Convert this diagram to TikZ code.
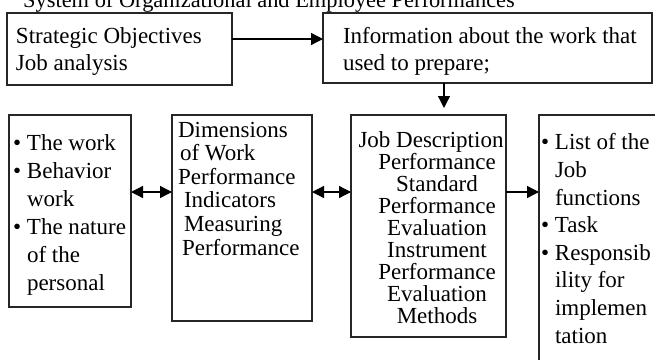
\documentclass[tikz,border=0pt]{standalone}
\usepackage{fontspec}
\setmainfont{Liberation Serif}
\usetikzlibrary{arrows.meta}
\begin{document}
\begin{tikzpicture}[x=1pt,y=-1pt,
  box/.style={draw=black!85, line width=1.4pt, inner sep=0pt, outer sep=0pt, anchor=north west},
  txt/.style={inner sep=0pt, outer sep=0pt, anchor=base west, align=left},
  arr/.style={line width=1.3pt, -{Triangle[length=12pt,width=12pt]}},
  darr/.style={line width=1.3pt, {Triangle[length=12pt,width=12pt]}-{Triangle[length=12pt,width=12pt]}},
  font=\fontsize{23}{28}\selectfont]
\useasboundingbox (0,0) rectangle (655,359);
\clip (0,0) rectangle (655,359);
% title
\node[inner sep=0pt, anchor=base west, font=\fontsize{22.4}{26}\selectfont] (title) at (23,7) {System of Organizational and Employee Performances};
% boxes
\node[box, minimum width=225pt, minimum height=72pt] (b1) at (7,13) {};
\node[box, minimum width=329pt, minimum height=70pt] (b2) at (323,13) {};
\node[box, minimum width=122pt, minimum height=192pt] (lb) at (9,115) {};
\node[box, minimum width=140pt, minimum height=206pt] (dims) at (172,115) {};
\node[box, minimum width=155pt, minimum height=222pt] (jd) at (351,115) {};
\node[box, minimum width=141pt, minimum height=265pt] (rb) at (539,115) {};
% texts (base anchor = baseline of the last line)
\node[txt, font=\fontsize{23}{27}\selectfont] (t1) at (16,70) {Strategic Objectives\\Job analysis};
\node[txt, font=\fontsize{23}{27}\selectfont] (t2) at (343,70) {Information about the work that\\used to prepare;};
\node[txt] (tl) at (13,290) {\makebox[14pt][l]{\textbullet}The work\\
\makebox[14pt][l]{\textbullet}Behavior\\
\hspace*{14pt}work\\
\makebox[14pt][l]{\textbullet}The nature\\
\hspace*{14pt}of the\\
\hspace*{14pt}personal};
\node[txt, font=\fontsize{23}{23.6}\selectfont] (td) at (178,255) {Dimensions\\
\hspace*{2pt}of Work\\
Performance\\
\hspace*{6pt}Indicators\\
\hspace*{6pt}Measuring\\
\hspace*{4pt}Performance};
\node[inner sep=0pt, outer sep=0pt, anchor=base, align=center, font=\fontsize{23}{21.9}\selectfont] (tj) at (437,323) {Job Description\hspace*{12pt}\\
Performance\\
Standard\\
Performance\\
Evaluation\\
Instrument\\
Performance\\
Evaluation\\
Methods};
\node[txt, font=\fontsize{23}{27.6}\selectfont] (tr) at (541,343) {\makebox[14pt][l]{\textbullet}List of the\\
\hspace*{14pt}Job\\
\hspace*{14pt}functions\\
\makebox[14pt][l]{\textbullet}Task\\
\makebox[14pt][l]{\textbullet}Responsib\\
\hspace*{14pt}ility for\\
\hspace*{14pt}implemen\\
\hspace*{14pt}tation};
% connectors
\draw[arr] ([yshift=10pt]b1.east) -- ([yshift=10pt]b1.east -| b2.west);
\path ([xshift=15.5pt]jd.north) coordinate (dtop);
\draw[arr] (b2.south -| dtop) -- ([yshift=7pt]dtop);
\draw[darr] ([yshift=19pt]lb.east) -- ([yshift=19pt]lb.east -| dims.west);
\draw[darr] ([yshift=26pt]dims.east) -- ([yshift=26pt]dims.east -| jd.west);
\draw[arr] ([yshift=34pt]jd.east) -- ([yshift=34pt]jd.east -| rb.west);
\end{tikzpicture}
\end{document}
